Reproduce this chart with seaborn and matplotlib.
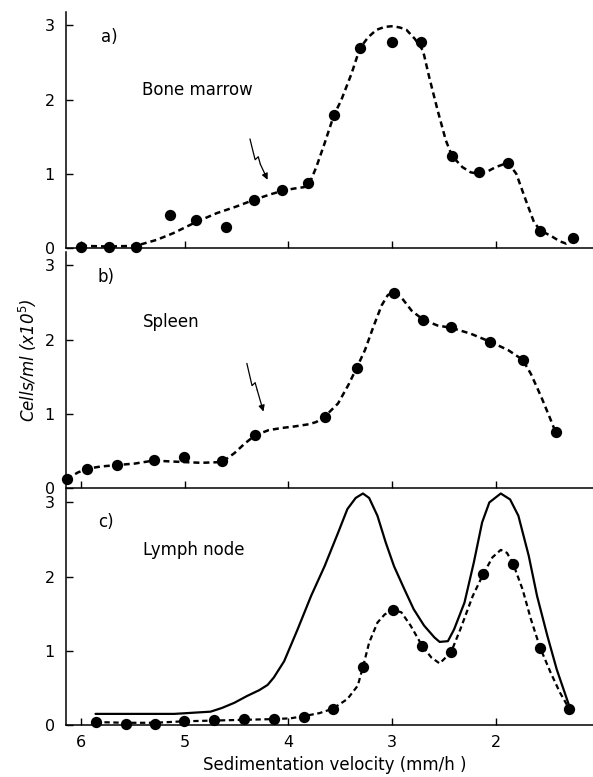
import matplotlib
matplotlib.use('Agg')
import matplotlib.pyplot as plt
import seaborn as sns

# ---- data: sedimentation velocity (mm/h) vs cells/ml (x10^5)
# a) bone marrow
vel_a_pts = [6.00, 5.73, 5.47, 5.14, 4.89, 4.60, 4.33, 4.06, 3.81, 3.56, 3.31, 3.00,
             2.72, 2.42, 2.16, 1.88, 1.57, 1.25]
cells_a_pts = [0.02, 0.01, 0.01, 0.44, 0.38, 0.28, 0.65, 0.78, 0.87, 1.79, 2.69, 2.78,
               2.78, 1.24, 1.03, 1.15, 0.23, 0.13]
vel_a_curve = [6.00, 5.73, 5.47, 5.27, 5.11, 4.89, 4.69, 4.50, 4.33, 4.18, 4.06, 3.95,
               3.85, 3.79, 3.73, 3.65, 3.56, 3.49, 3.39, 3.31, 3.23, 3.15, 3.07, 2.99,
               2.92, 2.86, 2.78, 2.70, 2.64, 2.56, 2.48, 2.42, 2.32, 2.24, 2.16, 2.08,
               2.00, 1.88, 1.80, 1.71, 1.63, 1.57, 1.45, 1.38, 1.32, 1.25]
cells_a_curve = [0.03, 0.02, 0.03, 0.11, 0.20, 0.35, 0.47, 0.56, 0.65, 0.72, 0.77, 0.80,
                 0.82, 0.89, 1.09, 1.41, 1.79, 1.99, 2.35, 2.69, 2.84, 2.94, 2.98, 2.99,
                 2.97, 2.94, 2.82, 2.66, 2.30, 1.86, 1.45, 1.24, 1.09, 1.02, 1.00, 1.03,
                 1.09, 1.15, 1.00, 0.65, 0.35, 0.24, 0.15, 0.09, 0.06, 0.13]

# b) spleen
vel_b_pts = [6.14, 5.94, 5.65, 5.30, 5.01, 4.64, 4.32, 3.65, 3.34, 2.98, 2.70, 2.43,
             2.05, 1.74, 1.42]
cells_b_pts = [0.12, 0.26, 0.31, 0.38, 0.42, 0.37, 0.71, 0.96, 1.62, 2.63, 2.27, 2.17,
               1.97, 1.73, 0.75]
vel_b_curve = [6.14, 6.03, 5.94, 5.81, 5.65, 5.48, 5.30, 5.16, 5.01, 4.84, 4.64, 4.52,
               4.42, 4.32, 4.19, 4.06, 3.94, 3.80, 3.73, 3.65, 3.52, 3.42, 3.34, 3.26,
               3.18, 3.10, 3.04, 2.98, 2.91, 2.81, 2.70, 2.56, 2.43, 2.24, 2.05, 1.88,
               1.74, 1.66, 1.56, 1.48, 1.42]
cells_b_curve = [0.12, 0.21, 0.26, 0.29, 0.31, 0.33, 0.37, 0.36, 0.35, 0.34, 0.35, 0.47,
                 0.60, 0.71, 0.78, 0.81, 0.83, 0.86, 0.89, 0.96, 1.14, 1.39, 1.62, 1.86,
                 2.17, 2.46, 2.60, 2.64, 2.57, 2.39, 2.27, 2.19, 2.16, 2.08, 1.97, 1.86,
                 1.73, 1.54, 1.23, 0.96, 0.75]

# c) lymph node
vel_c_pts = [5.86, 5.57, 5.29, 5.01, 4.72, 4.43, 4.14, 3.85, 3.57, 3.28, 2.99, 2.71,
             2.43, 2.12, 1.83, 1.57, 1.29]
cells_c_pts = [0.04, 0.02, 0.02, 0.06, 0.07, 0.08, 0.08, 0.11, 0.22, 0.78, 1.55, 1.07,
               0.99, 2.03, 2.17, 1.04, 0.22]
vel_c_curve = [5.86, 5.57, 5.29, 5.01, 4.72, 4.43, 4.14, 3.98, 3.85, 3.70, 3.57, 3.43,
               3.33, 3.28, 3.22, 3.14, 3.07, 2.99, 2.91, 2.82, 2.71, 2.62, 2.54, 2.43,
               2.34, 2.22, 2.12, 2.03, 1.95, 1.89, 1.83, 1.74, 1.66, 1.57, 1.47, 1.38,
               1.29]
cells_c_curve = [0.04, 0.03, 0.03, 0.05, 0.06, 0.07, 0.08, 0.09, 0.12, 0.16, 0.22, 0.35,
                 0.53, 0.78, 1.11, 1.38, 1.49, 1.55, 1.52, 1.34, 1.07, 0.91, 0.83, 0.98,
                 1.29, 1.74, 2.03, 2.26, 2.36, 2.32, 2.17, 1.83, 1.43, 1.04, 0.71, 0.44,
                 0.22]
vel_c_solid = [5.86, 5.50, 5.10, 4.75, 4.64, 4.52, 4.40, 4.28, 4.20, 4.14, 4.04, 3.91,
               3.78, 3.65, 3.52, 3.43, 3.35, 3.28, 3.22, 3.14, 3.06, 2.98, 2.88, 2.79,
               2.69, 2.59, 2.54, 2.46, 2.40, 2.30, 2.21, 2.13, 2.06, 1.95, 1.86, 1.78,
               1.68, 1.60, 1.50, 1.41, 1.29]
cells_c_solid = [0.15, 0.15, 0.15, 0.18, 0.23, 0.30, 0.39, 0.47, 0.54, 0.64, 0.86, 1.29,
                 1.74, 2.14, 2.59, 2.91, 3.06, 3.12, 3.06, 2.82, 2.46, 2.14, 1.83, 1.56,
                 1.34, 1.18, 1.12, 1.13, 1.29, 1.65, 2.19, 2.73, 3.00, 3.12, 3.04, 2.82,
                 2.28, 1.74, 1.20, 0.75, 0.26]

panel_tags = ['a)', 'b)', 'c)']
tissue_names = ['Bone marrow', 'Spleen', 'Lymph node']
x_ticks = [6, 5, 4, 3, 2]
y_ticks = [0, 1, 2, 3]

# squiggly arrows marking a shoulder in a) and b)
arrow_a = ([4.37, 4.34, 4.32, 4.29, 4.27], [1.47, 1.30, 1.19, 1.23, 1.13], (4.20, 0.92))
arrow_b = ([4.40, 4.37, 4.35, 4.32, 4.30], [1.68, 1.50, 1.38, 1.42, 1.32], (4.24, 1.03))

sns.set_style('ticks')
plt.rcParams['font.family'] = ['DejaVu Sans']
plt.rcParams['axes.linewidth'] = 1.1
for key in ['text.color', 'axes.edgecolor', 'axes.labelcolor', 'xtick.color', 'ytick.color']:
    plt.rcParams[key] = 'black'

fig = plt.figure(figsize=(5.93, 7.77), dpi=100)
left, width, height = 0.1113, 0.8887, 0.3037
bottoms = [0.6808, 0.3719, 0.0669]
axes = [fig.add_axes([left, b, width, height]) for b in bottoms]


def dashed(ax, x, y, lw=1.8):
    sns.lineplot(x=x, y=y, ax=ax, color='k', lw=lw, sort=False, estimator=None)
    ln = ax.lines[-1]
    ln.set_dashes([2.4, 1.6])
    ln.set_clip_on(False)


def dots(ax, x, y):
    sns.scatterplot(x=x, y=y, ax=ax, color='k', s=66, linewidth=0, zorder=3, clip_on=False)


def squiggle(ax, arrow):
    xs, ys, head = arrow
    ax.plot(xs, ys, color='k', lw=0.9)
    ax.annotate('', xy=head, xytext=(xs[-1], ys[-1]),
                arrowprops=dict(arrowstyle='-|>', color='k', lw=0.9,
                                mutation_scale=9, shrinkA=0, shrinkB=0))


ax_a, ax_b, ax_c = axes
dashed(ax_a, vel_a_curve, cells_a_curve)
dots(ax_a, vel_a_pts, cells_a_pts)
squiggle(ax_a, arrow_a)

dashed(ax_b, vel_b_curve, cells_b_curve)
dots(ax_b, vel_b_pts, cells_b_pts)
squiggle(ax_b, arrow_b)

sns.lineplot(x=vel_c_solid, y=cells_c_solid, ax=ax_c, color='k', lw=1.6,
             sort=False, estimator=None)
ax_c.lines[-1].set_clip_on(False)
dashed(ax_c, vel_c_curve, cells_c_curve, lw=1.6)
dots(ax_c, vel_c_pts, cells_c_pts)

tag_pos = [(5.73, 2.85), (5.76, 2.85), (5.76, 2.73)]
name_pos = [(5.41, 2.13), (5.40, 2.24), (5.40, 2.36)]
for ax, tag, name, tp, npos in zip(axes, panel_tags, tissue_names, tag_pos, name_pos):
    ax.set_xlim(6.145, 1.06)
    ax.set_ylim(0, 3.18)
    ax.set_xticks(x_ticks)
    ax.set_yticks(y_ticks)
    ax.tick_params(direction='in', length=5, width=1.0, labelsize=11.5, color='k')
    ax.tick_params(axis='y', pad=8)
    ax.tick_params(axis='x', pad=7)
    sns.despine(ax=ax)
    ax.patch.set_alpha(0)
    ax.text(tp[0], tp[1], tag, fontsize=12, ha='center', va='center')
    ax.text(npos[0], npos[1], name, fontsize=12, ha='left', va='center')
    if ax is not ax_c:
        ax.tick_params(axis='x', labelbottom=False)

fig.text(335 / 593, 1 - 765 / 777, 'Sedimentation velocity (mm/h )', fontsize=12,
         ha='center', va='center')
fig.text(28 / 593, 1 - 360 / 777, 'Cells/ml (x10$^5$)', fontsize=12, style='italic',
         rotation=90, ha='center', va='center')

fig.savefig('out.png', dpi=100)
